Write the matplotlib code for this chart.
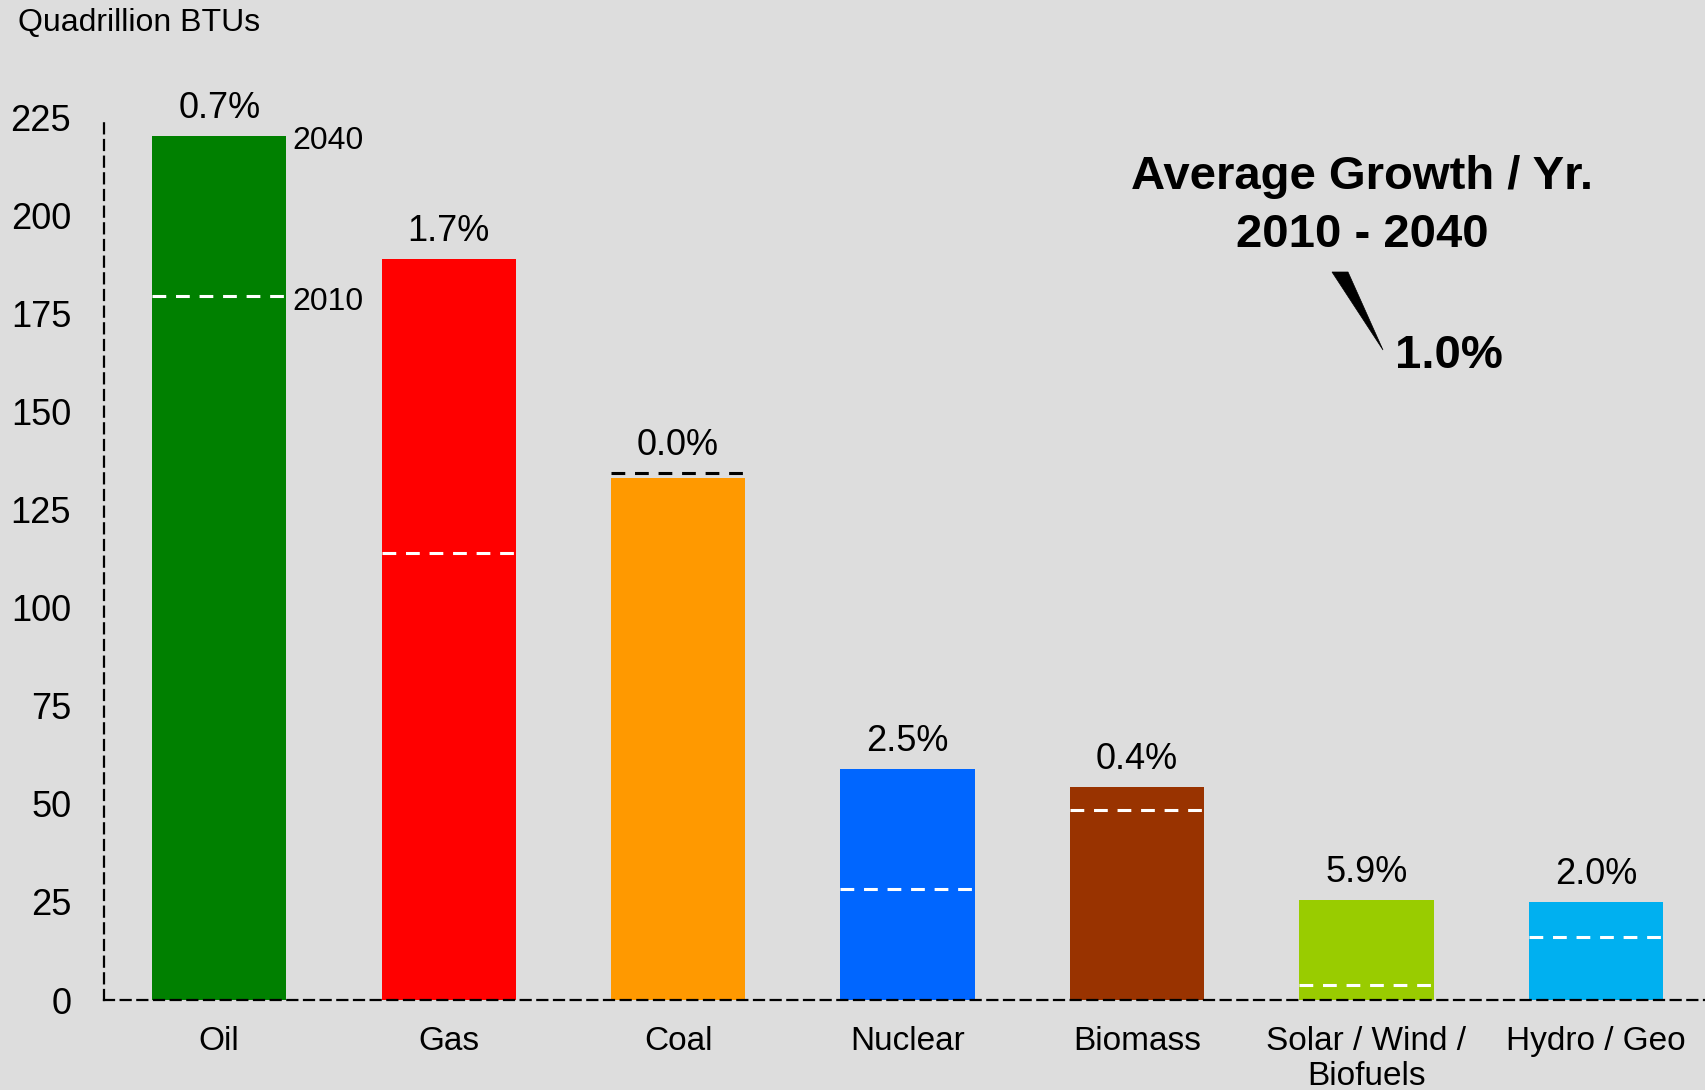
import matplotlib
matplotlib.use("Agg")
import matplotlib.pyplot as plt
from matplotlib.patches import Polygon

plt.rcParams['font.family'] = ['Liberation Sans', 'DejaVu Sans']

categories = ["Oil", "Gas", "Coal", "Nuclear", "Biomass", "Solar / Wind /\nBiofuels", "Hydro / Geo"]
values_2040 = [220.2, 188.8, 133.0, 58.9, 54.3, 25.5, 25.0]
values_2010 = [179.4, 113.9, 134.3, 28.3, 48.5, 3.8, 16.1]
growth_labels = ["0.7%", "1.7%", "0.0%", "2.5%", "0.4%", "5.9%", "2.0%"]
colors = ["#008000", "#FF0000", "#FF9900", "#0066FF", "#993300", "#99CC00", "#00B0F0"]
y_ticks = [0, 25, 50, 75, 100, 125, 150, 175, 200, 225]

W, H = 1706, 1090
bg = "#DDDDDD"
fig = plt.figure(figsize=(W / 100, H / 100), dpi=100, facecolor=bg)
ax = fig.add_axes([104.5 / W, 90 / H, (W - 104.5) / W, 883 / H])
ax.set_facecolor(bg)

bar_w = 0.585
xs = list(range(len(categories)))
ax.bar(xs, values_2040, width=bar_w, color=colors, zorder=1)

# 2010 level markers: white inside a bar, black when above it
for x, v10, v40 in zip(xs, values_2010, values_2040):
    c = "white" if v10 <= v40 else "black"
    ax.hlines(v10, x - bar_w / 2, x + bar_w / 2, colors=c, linewidth=2.2,
              linestyles=(0, (4.5, 3.2)), zorder=3)

# growth labels above bars
for x, v10, v40, lab in zip(xs, values_2010, values_2040, growth_labels):
    top = max(v10, v40)
    ax.annotate(lab, (x, top), xytext=(0, 7), textcoords="offset points",
                ha="center", va="bottom", fontsize=26, color="black")

# year labels next to the first bar
ax.annotate("2040", (xs[0] + bar_w / 2, values_2040[0]), xytext=(4, -4),
            textcoords="offset points", ha="left", va="center", fontsize=23)
ax.annotate("2010", (xs[0] + bar_w / 2, values_2010[0]), xytext=(4, -4),
            textcoords="offset points", ha="left", va="center", fontsize=23)

ax.set_xlim(-0.5, 6.48)
ax.set_ylim(0, 225)
ax.set_yticks(y_ticks)
ax.set_yticklabels([str(t) for t in y_ticks], fontsize=26)
ax.set_xticks(xs)
ax.set_xticklabels(categories, fontsize=24, linespacing=1.17)
ax.tick_params(axis="y", length=0, pad=24)
ax.tick_params(axis="x", length=0, pad=19)

for side in ("top", "right"):
    ax.spines[side].set_visible(False)
for side in ("left", "bottom"):
    ax.spines[side].set_linestyle((0, (4.5, 3)))
    ax.spines[side].set_linewidth(1.6)
    ax.spines[side].set_color("black")
    ax.spines[side].set_zorder(4)
ax.spines["left"].set_bounds(0, 224)

fig.text(18 / W, 1 - 23 / H, "Quadrillion BTUs", fontsize=23, ha="left", va="center")

fig.text(1362 / W, 1 - 206 / H, "Average Growth / Yr.\n2010 - 2040", fontsize=34,
         fontweight="bold", ha="center", va="center", linespacing=1.4)
fig.text(1395 / W, 1 - 356 / H, "1.0%", fontsize=34, fontweight="bold",
         ha="left", va="center")
pointer = Polygon([(1332 / W, 1 - 272 / H), (1348 / W, 1 - 272 / H), (1383 / W, 1 - 350 / H)],
                  closed=True, facecolor="black", edgecolor="black", linewidth=0.5,
                  transform=fig.transFigure)
fig.patches.append(pointer)

fig.savefig("out.png", dpi=100, facecolor=bg)
